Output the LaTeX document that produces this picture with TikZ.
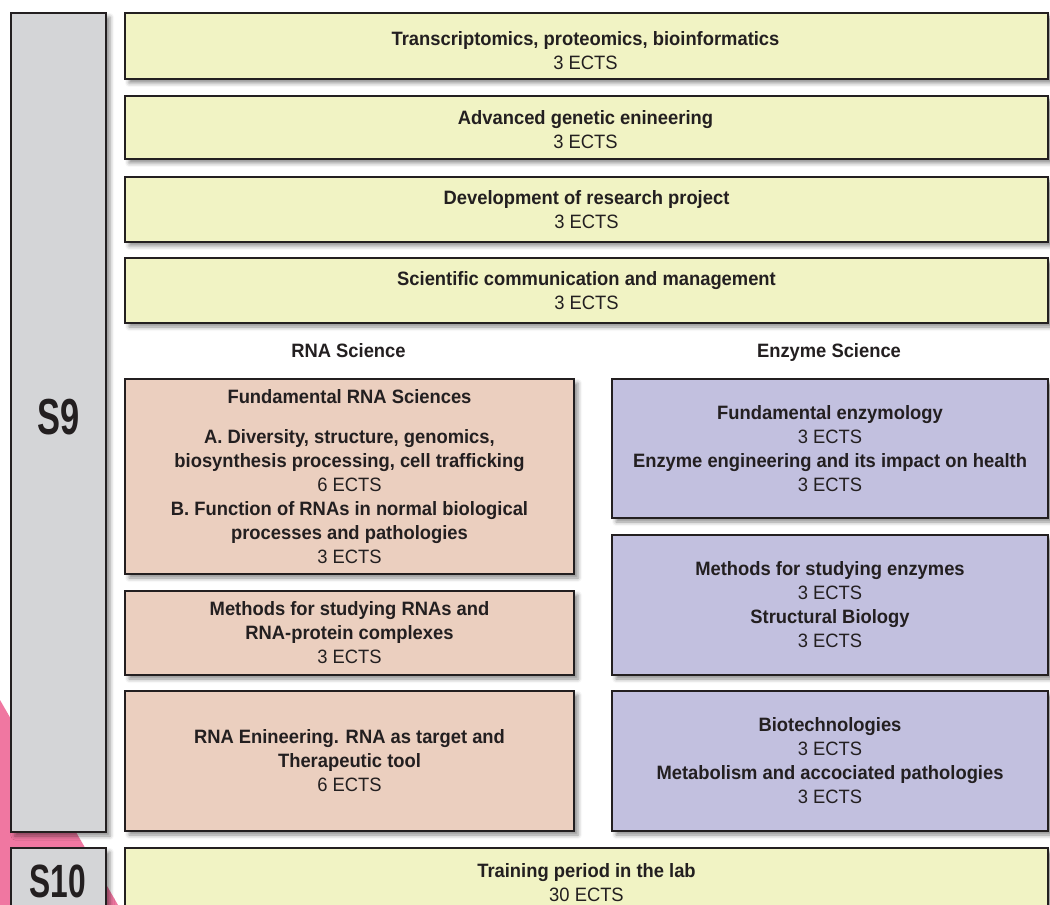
\documentclass[tikz,border=0pt]{standalone}
\usepackage{fontspec}
\setmainfont{Liberation Sans}[FakeStretch=0.95]
\newfontfamily\semfont{Liberation Sans}[FakeStretch=0.68]
\usetikzlibrary{shadows.blur}

\definecolor{ink}{RGB}{35,31,32}
\definecolor{semgray}{RGB}{212,213,215}
\definecolor{corefill}{RGB}{241,243,196}
\definecolor{rnafill}{RGB}{235,207,191}
\definecolor{enzfill}{RGB}{194,192,223}
\definecolor{ribbon}{RGB}{240,119,161}

\tikzset{every picture/.style={line width=0.75pt}}
\tikzset{
  cbox/.style 2 args={draw=ink, line width=1.5pt, anchor=north west, inner sep=0pt,
    align=center, text=ink, minimum width=#1*0.75pt, minimum height=#2*0.75pt,
    font=\fontsize{14.5}{18}\selectfont,
    blur shadow={shadow xshift=3pt, shadow yshift=-3pt, shadow blur radius=3pt, shadow opacity=45}},
  boxtext/.style={align=center, text=ink, inner sep=0pt, font=\fontsize{14.5}{18}\selectfont},
  semlabel/.style={font=\semfont\bfseries\fontsize{38}{40}\selectfont, text=ink, anchor=base},
  colhead/.style={font=\bfseries\fontsize{14.5}{18}\selectfont, text=ink, anchor=base},
}

\begin{document}
\begin{tikzpicture}[x=0.75pt,y=0.75pt,yscale=-1,xscale=1]
\clip (0,0) rectangle (1050,905);

%Shape: Ribbon
\fill [ribbon] (0,700) -- (118,905) -- (0,905) -- cycle ;

%Semesters
\node [cbox={95}{819}, fill=semgray] (s9) at (10,12) {};
\node [semlabel] (s9lab) at (59,435) {S9};
\node [cbox={95}{66}, fill=semgray] (s10) at (10,847) {};
\node [semlabel, font=\semfont\bfseries\fontsize{35}{38}\selectfont] (s10lab) at (58,897) {S10};

%Common courses
\node [cbox={923}{66}, fill=corefill] (tpb) at (124,12) {};
\node [boxtext] (tpbtext) at (585.5,51) {\textbf{Transcriptomics, proteomics, bioinformatics}\\3 ECTS};
\node [cbox={923}{63}, fill=corefill] (age) at (124,95) {};
\node [boxtext] (agetext) at (585.5,130) {\textbf{Advanced genetic enineering}\\3 ECTS};
\node [cbox={923}{65}, fill=corefill] (drp) at (124,176) {\textbf{Development of research project}\\3 ECTS};
\node [cbox={923}{65}, fill=corefill] (scm) at (124,257) {\textbf{Scientific communication and management}\\3 ECTS};

% Text Node
\node [colhead] (rnahead) at (348.5,358) {RNA Science};
% Text Node
\node [colhead] (enzhead) at (829,358) {Enzyme Science};

%RNA Science
\node [cbox={449}{195}, fill=rnafill] (rnafund) at (124,378) {\textbf{Fundamental RNA Sciences}\\[12pt]
  \textbf{A. Diversity, structure, genomics,}\\\textbf{biosynthesis processing, cell trafficking}\\6 ECTS\\
  \textbf{B. Function of RNAs in normal biological}\\\textbf{processes and pathologies}\\3 ECTS};
\node [cbox={449}{84}, fill=rnafill] (rnameth) at (124,590) {\textbf{Methods for studying RNAs and}\\\textbf{RNA-protein complexes}\\3 ECTS};
\node [cbox={449}{140}, fill=rnafill] (rnaeng) at (124,690) {\textbf{RNA Enineering. RNA as target and}\\\textbf{Therapeutic tool}\\6 ECTS};

%Enzyme Science
\node [cbox={436}{139}, fill=enzfill] (enzfund) at (611,378) {\textbf{Fundamental enzymology}\\3 ECTS\\\textbf{Enzyme engineering and its impact on health}\\3 ECTS};
\node [cbox={436}{140}, fill=enzfill] (enzmeth) at (611,534) {\textbf{Methods for studying enzymes}\\3 ECTS\\\textbf{Structural Biology}\\3 ECTS};
\node [cbox={436}{140}, fill=enzfill] (enzbio) at (611,690) {\textbf{Biotechnologies}\\3 ECTS\\\textbf{Metabolism and accociated pathologies}\\3 ECTS};

%Training
\node [cbox={923}{70}, fill=corefill] (train) at (124,847) {\textbf{Training period in the lab}\\30 ECTS};

\end{tikzpicture}
\end{document}
